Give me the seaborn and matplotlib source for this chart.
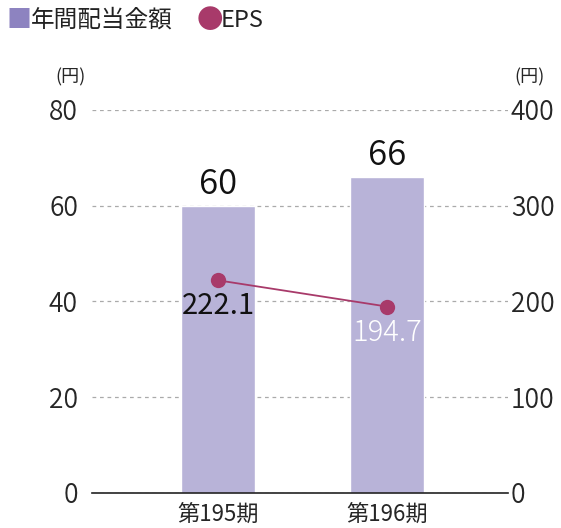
import numpy as np
import pandas as pd
import matplotlib
matplotlib.use("Agg")
import matplotlib.pyplot as plt
import seaborn as sns

# data
periods = ["第195期", "第196期"]
dividend = [60, 66]
eps = [222.1, 194.7]

bar_color = "#b8b3d8"
legend_bar_color = "#8d83c0"
eps_color = "#a83a6a"

sns.set_style("white")
plt.rcParams['font.family'] = ['Noto Sans CJK JP', 'DejaVu Sans']

df = pd.DataFrame({"period": periods, "dividend": dividend, "eps": eps})

fig = plt.figure(figsize=(5.61, 5.28), dpi=100)
ax = fig.add_axes([0.164, 0.0663, 0.7415, 0.7254])

sns.barplot(data=df, x="period", y="dividend", color=bar_color, width=0.44,
            saturation=1, ax=ax, zorder=2)
ax.set_xlim(-0.746, 1.716)
ax.set_ylim(0, 80)
ax.set_yticks([0, 20, 40, 60, 80])
ax.yaxis.grid(True, linestyle=(0, (3, 3)), color="#aaaaaa", linewidth=0.9, zorder=0)
ax.set_axisbelow(True)
for s in ["top", "left", "right"]:
    ax.spines[s].set_visible(False)
ax.spines["bottom"].set_color("#222222")
ax.spines["bottom"].set_linewidth(1.2)
ax.tick_params(axis="y", length=0, labelsize=19, pad=10)
ax.tick_params(axis="x", length=0, labelsize=16, pad=7)
for t in ax.get_yticklabels():
    t.set_fontweight(350)
ax.set_xlabel("")
ax.set_ylabel("")

for i, v in enumerate(dividend):
    ax.text(i, v + 0.8, str(v), ha="center", va="bottom", fontsize=25,
            fontweight=350, color="#111111")

ax2 = ax.twinx()
sns.lineplot(x=[0, 1], y=eps, color=eps_color, marker="o", markersize=11,
             markeredgewidth=0, linewidth=1.3, ax=ax2)
ax2.set_ylim(0, 400)
ax2.set_yticks([0, 100, 200, 300, 400])
for s in ["top", "left", "right", "bottom"]:
    ax2.spines[s].set_visible(False)
ax2.tick_params(axis="y", length=0, labelsize=19, pad=2)
for t in ax2.get_yticklabels():
    t.set_fontweight(350)
ax2.set_xlim(-0.746, 1.716)

ax2.text(0, eps[0] - 11, f"{eps[0]}", ha="center", va="top", fontsize=21,
         color="#111111")
ax2.text(1, eps[1] - 11, f"{eps[1]}", ha="center", va="top", fontsize=21,
         fontweight="light", color="white")

# unit labels
fig.text(0.125, 0.836, "(円)", fontsize=13, ha="center", va="bottom")
fig.text(0.943, 0.836, "(円)", fontsize=13, ha="center", va="bottom")

# legend
fig.text(0.012, 0.962, "■", fontsize=18, color=legend_bar_color, va="center", ha="left")
fig.text(0.055, 0.962, "年間配当金額", fontsize=17, color="#222222", va="center", ha="left")
fig.text(0.350, 0.962, "●", fontsize=19, color=eps_color, va="center", ha="left")
fig.text(0.394, 0.962, "EPS", fontsize=17, color="#222222", va="center", ha="left")

fig.savefig("out.png", dpi=100)
